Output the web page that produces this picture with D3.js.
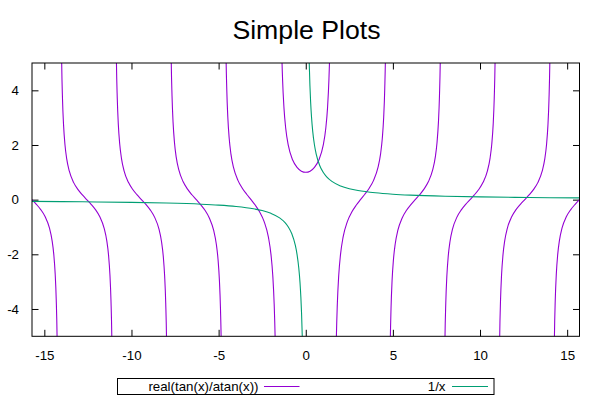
<!DOCTYPE html>
<html><head><meta charset="utf-8">
<script src="https://cdn.jsdelivr.net/npm/d3@7"></script>
<style>body{margin:0;background:#fff}svg{display:block}text{font-family:"Liberation Sans",Arial,sans-serif}</style>
</head><body><svg id="c" width="600" height="400"></svg>
<script>
// ---- data ----
const title = "Simple Plots";
const seriesNames = ["real(tan(x)/atan(x))", "1/x"];
const seriesColors = ["#9400d3", "#009e73"];
const xDomain = [-15.708, 15.708];
const yDomain = [-5, 5];
const xTicks = [-15, -10, -5, 0, 5, 10, 15];
const yTicks = [-4, -2, 0, 2, 4];
const xTickLabels = ["-15", "-10", "-5", "0", "5", "10", "15"];
const yTickLabels = ["-4", "-2", "0", "2", "4"];

// real(tan(x)/atan(x)) : one array per branch between asymptotes
const branchM5 = [[-15.708,0],[-15.458,-0.170],[-15.208,-0.363],[-14.958,-0.619],[-14.708,-1.036],[-14.558,-1.488],[-14.458,-2.004],[-14.378,-2.712],[-14.318,-3.644],[-14.268,-5.065],[-14.208,-9.397]];
const branchM4 = [[-14.066,9.402],[-14.006,5.069],[-13.956,3.649],[-13.896,2.717],[-13.816,2.008],[-13.716,1.492],[-13.566,1.040],[-13.316,0.623],[-13.066,0.366],[-12.816,0.171],[-12.566,0],[-12.316,-0.171],[-12.066,-0.367],[-11.816,-0.627],[-11.566,-1.049],[-11.416,-1.506],[-11.316,-2.030],[-11.236,-2.748],[-11.176,-3.692],[-11.126,-5.132],[-11.066,-9.523]];
const branchM3 = [[-10.925,9.531],[-10.865,5.140],[-10.815,3.700],[-10.755,2.755],[-10.675,2.037],[-10.575,1.513],[-10.425,1.056],[-10.175,0.633],[-9.925,0.372],[-9.675,0.174],[-9.425,0],[-9.175,-0.175],[-8.925,-0.374],[-8.675,-0.640],[-8.425,-1.072],[-8.275,-1.541],[-8.175,-2.077],[-8.095,-2.813],[-8.035,-3.781],[-7.985,-5.256],[-7.925,-9.757]];
const branchM2 = [[-7.783,9.772],[-7.723,5.272],[-7.673,3.796],[-7.613,2.828],[-7.533,2.092],[-7.433,1.555],[-7.283,1.086],[-7.033,0.652],[-6.783,0.384],[-6.533,0.180],[-6.283,0],[-6.033,-0.182],[-5.783,-0.390],[-5.533,-0.669],[-5.283,-1.126],[-5.133,-1.621],[-5.033,-2.189],[-4.953,-2.969],[-4.893,-3.995],[-4.843,-5.560],[-4.783,-10.333]];
const branchM1 = [[-4.642,10.379],[-4.582,5.606],[-4.532,4.041],[-4.472,3.015],[-4.392,2.235],[-4.292,1.665],[-4.142,1.168],[-3.892,0.706],[-3.642,0.419],[-3.392,0.199],[-3.142,0],[-2.892,-0.206],[-2.642,-0.452],[-2.392,-0.793],[-2.142,-1.374],[-1.992,-2.021],[-1.892,-2.775],[-1.812,-3.819],[-1.752,-5.200],[-1.702,-7.313],[-1.642,-13.775]];
const branch0 = [[-1.50,14.35],[-1.44,7.887],[-1.39,5.777],[-1.33,4.399],[-1.25,3.359],[-1.15,2.613],[-1.00,1.983],[-0.75,1.448],[-0.50,1.178],[-0.25,1.042],[0,1],[0.25,1.042],[0.50,1.178],[0.75,1.448],[1.00,1.983],[1.15,2.613],[1.25,3.359],[1.33,4.399],[1.39,5.777],[1.44,7.887],[1.50,14.35]];
const branchP1 = [[1.642,-13.775],[1.702,-7.313],[1.752,-5.200],[1.812,-3.819],[1.892,-2.775],[1.992,-2.021],[2.142,-1.374],[2.392,-0.793],[2.642,-0.452],[2.892,-0.206],[3.142,0],[3.392,0.199],[3.642,0.419],[3.892,0.706],[4.142,1.168],[4.292,1.665],[4.392,2.235],[4.472,3.015],[4.532,4.041],[4.582,5.606],[4.642,10.379]];
const branchP2 = [[4.783,-10.333],[4.843,-5.560],[4.893,-3.995],[4.953,-2.969],[5.033,-2.189],[5.133,-1.621],[5.283,-1.126],[5.533,-0.669],[5.783,-0.390],[6.033,-0.182],[6.283,0],[6.533,0.180],[6.783,0.384],[7.033,0.652],[7.283,1.086],[7.433,1.555],[7.533,2.092],[7.613,2.828],[7.673,3.796],[7.723,5.272],[7.783,9.772]];
const branchP3 = [[7.925,-9.757],[7.985,-5.256],[8.035,-3.781],[8.095,-2.813],[8.175,-2.077],[8.275,-1.541],[8.425,-1.072],[8.675,-0.640],[8.925,-0.374],[9.175,-0.175],[9.425,0],[9.675,0.174],[9.925,0.372],[10.175,0.633],[10.425,1.056],[10.575,1.513],[10.675,2.037],[10.755,2.755],[10.815,3.700],[10.865,5.140],[10.925,9.531]];
const branchP4 = [[11.066,-9.523],[11.126,-5.132],[11.176,-3.692],[11.236,-2.748],[11.316,-2.030],[11.416,-1.506],[11.566,-1.049],[11.816,-0.627],[12.066,-0.367],[12.316,-0.171],[12.566,0],[12.816,0.171],[13.066,0.366],[13.316,0.623],[13.566,1.040],[13.716,1.492],[13.816,2.008],[13.896,2.717],[13.956,3.649],[14.006,5.069],[14.066,9.402]];
const branchP5 = [[14.208,-9.397],[14.268,-5.065],[14.318,-3.644],[14.378,-2.712],[14.458,-2.004],[14.558,-1.488],[14.708,-1.036],[14.958,-0.619],[15.208,-0.363],[15.458,-0.170],[15.708,0]];

// 1/x : negative and positive branches
const invNeg = [[-15.708,-0.0637],[-14,-0.0714],[-12,-0.0833],[-10,-0.1],[-8,-0.125],[-6,-0.1667],[-5,-0.2],[-4,-0.25],[-3,-0.3333],[-2.5,-0.4],[-2,-0.5],[-1.5,-0.6667],[-1.2,-0.8333],[-1,-1],[-0.8,-1.25],[-0.6,-1.6667],[-0.5,-2],[-0.4,-2.5],[-0.33,-3.0303],[-0.28,-3.5714],[-0.24,-4.1667],[-0.2,-5],[-0.18,-5.5556],[-0.15,-6.6667]];
const invPos = [[0.15,6.6667],[0.18,5.5556],[0.2,5],[0.24,4.1667],[0.28,3.5714],[0.33,3.0303],[0.4,2.5],[0.5,2],[0.6,1.6667],[0.8,1.25],[1,1],[1.2,0.8333],[1.5,0.6667],[2,0.5],[2.5,0.4],[3,0.3333],[4,0.25],[5,0.2],[6,0.1667],[8,0.125],[10,0.1],[12,0.0833],[14,0.0714],[15.708,0.0637]];

const purpleBranches = [branchM5, branchM4, branchM3, branchM2, branchM1, branch0, branchP1, branchP2, branchP3, branchP4, branchP5];
const greenBranches = [invNeg, invPos];

// ---- drawing ----
const svg = d3.select("#c");
const L = 32, R = 579.5, T = 63, B = 336.3;
const x = d3.scaleLinear().domain(xDomain).range([L, R]);
const y = d3.scaleLinear().domain(yDomain).range([B, T]);
const font = "13.3px";

svg.append("text").attr("x", 306.5).attr("y", 38.5).attr("text-anchor", "middle")
  .style("font-size", "26.67px").text(title);

svg.append("defs").append("clipPath").attr("id", "clip")
  .append("rect").attr("x", L).attr("y", T).attr("width", R - L).attr("height", B - T);

const tick = 6.5;
const styleAxis = (g, labels) => {
  g.select(".domain").remove();
  g.selectAll(".tick line").attr("stroke", "#000").attr("stroke-width", 1);
  g.selectAll(".tick text").style("font-size", font).attr("fill", "#000");
  if (!labels) g.selectAll(".tick text").remove();
};
svg.append("g").attr("transform", `translate(0,${B})`)
  .call(d3.axisBottom(x).tickValues(xTicks).tickSizeInner(-tick).tickSizeOuter(0).tickPadding(14)
    .tickFormat((d, i) => xTickLabels[i]))
  .call(g => styleAxis(g, true));
svg.append("g").attr("transform", `translate(0,${T})`)
  .call(d3.axisTop(x).tickValues(xTicks).tickSizeInner(-tick).tickSizeOuter(0))
  .call(g => styleAxis(g, false));
svg.append("g").attr("transform", `translate(${L},0)`)
  .call(d3.axisLeft(y).tickValues(yTicks).tickSizeInner(-tick).tickSizeOuter(0).tickPadding(13)
    .tickFormat((d, i) => yTickLabels[i]))
  .call(g => styleAxis(g, true));
svg.append("g").attr("transform", `translate(${R},0)`)
  .call(d3.axisRight(y).tickValues(yTicks).tickSizeInner(-tick).tickSizeOuter(0))
  .call(g => styleAxis(g, false));

const line = d3.line().x(d => x(d[0])).y(d => y(d[1])).curve(d3.curveMonotoneX);
const plot = svg.append("g").attr("clip-path", "url(#clip)");
purpleBranches.forEach(b => plot.append("path").attr("d", line(b)).attr("fill", "none")
  .attr("stroke", seriesColors[0]).attr("stroke-width", 1.1));
greenBranches.forEach(b => plot.append("path").attr("d", line(b)).attr("fill", "none")
  .attr("stroke", seriesColors[1]).attr("stroke-width", 1.1));

svg.append("rect").attr("x", L).attr("y", T).attr("width", R - L).attr("height", B - T)
  .attr("fill", "none").attr("stroke", "#000").attr("stroke-width", 1);

// legend
const lg = svg.append("g");
lg.append("rect").attr("x", 117.5).attr("y", 378.5).attr("width", 376.5).attr("height", 16)
  .attr("fill", "none").attr("stroke", "#000").attr("stroke-width", 1);
const legendItems = [{textEnd: 258.5, lx: 264, lw: 35.5}, {textEnd: 445.5, lx: 452, lw: 36}];
legendItems.forEach((it, i) => {
  lg.append("text").attr("x", it.textEnd).attr("y", 391).attr("text-anchor", "end")
    .style("font-size", font).text(seriesNames[i]);
  lg.append("line").attr("x1", it.lx).attr("x2", it.lx + it.lw).attr("y1", 386.5).attr("y2", 386.5)
    .attr("stroke", seriesColors[i]).attr("stroke-width", 1.1);
});
</script></body></html>
